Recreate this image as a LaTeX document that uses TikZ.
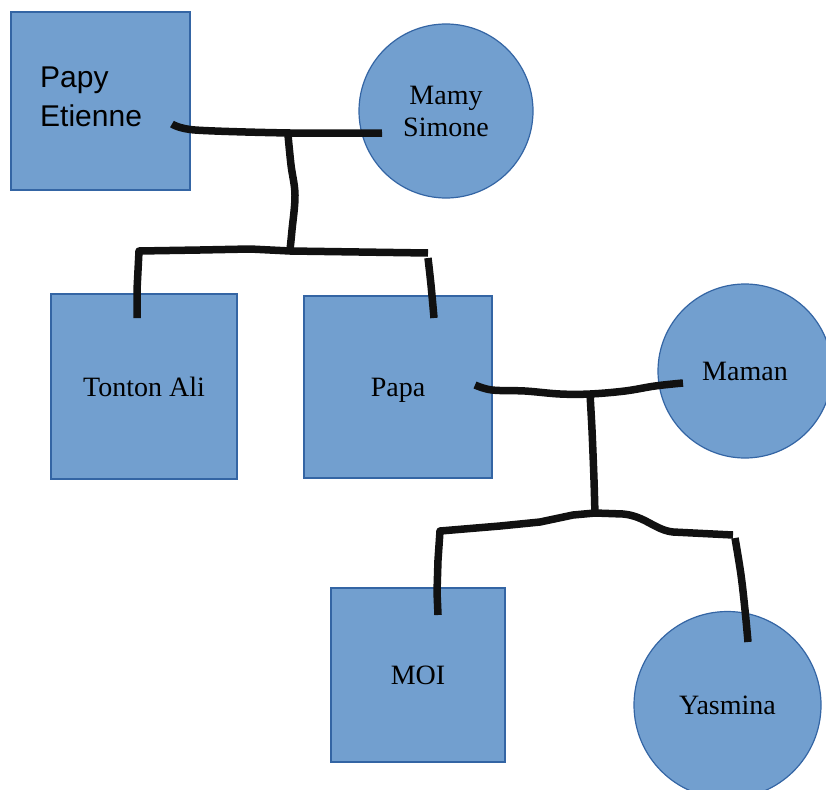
\documentclass[tikz,border=0pt]{standalone}
\usepackage{fontspec}
\setmainfont{Liberation Serif}
\newfontfamily\arialf{Liberation Sans}
\definecolor{boxfill}{HTML}{729FCF}
\definecolor{boxline}{HTML}{3465A4}
\definecolor{linkc}{HTML}{111111}
\begin{document}
\begin{tikzpicture}[x=1pt,y=-1pt,
  person/.style={draw=boxline, fill=boxfill, line width=1.2pt, inner sep=0pt,
     font=\fontsize{28}{32}\selectfont, align=center, text=black},
  male/.style={person, rectangle},
  female/.style={person, circle},
  link/.style={draw=linkc, line width=7.5pt, line join=round, line cap=butt},
  sanslbl/.style={font=\arialf\fontsize{30}{36}\selectfont, text=black, inner sep=0pt}]
\useasboundingbox (0,0) rectangle (826,789);

% people
\node[male, minimum width=179pt, minimum height=178pt] (papy) at (100.5,101) {};
\node[sanslbl, anchor=base west] (papyA) at (40,88) {Papy};
\node[sanslbl, anchor=base west] (papyB) at (40,126) {Etienne};
\node[female, minimum size=174pt] (mamy) at (446,111) {Mamy\\Simone};
\node[male, minimum width=186pt, minimum height=185pt] (ali) at (144,386.5) {Tonton Ali};
\node[male, minimum width=188pt, minimum height=182pt, text depth=0pt] (papa) at (398,387) {Papa};
\node[female, minimum size=174pt] (maman) at (745,371) {Maman};
\node[male, minimum width=174pt, minimum height=174pt] (moi) at (418,675) {MOI};
\node[female, minimum size=187pt] (yasmina) at (727.5,705) {Yasmina};

% connector end points
\coordinate (e1) at (172,124);
\coordinate (e2) at (382,133);
\coordinate (j1) at (288,135);
\coordinate (j1b) at (290,250);
\coordinate (e3) at (137,318);
\coordinate (e4) at (428,253);
\coordinate (e5) at (428,258);
\coordinate (e6) at (434,318);
\coordinate (e7) at (475,385);
\coordinate (e8) at (683,383);
\coordinate (j2) at (590,394);
\coordinate (j2b) at (595,516);
\coordinate (e9) at (438,615);
\coordinate (e10) at (733,535);
\coordinate (e11) at (735,538);
\coordinate (e12) at (748,642);

% couple Papy - Mamy
\draw[link] plot[smooth, tension=0.5] coordinates {(e1) (195,130) (290,133) (e2)};
\draw[link] plot[smooth, tension=0.6] coordinates {(j1) (291,165) (295,195) (292,230) (j1b)};
% children row 1
\draw[link] (e3) -- (137,290) -- (139,251) -- (200,250) -- (250,249) -- (290,251) -- (e4);
\draw[link] plot[smooth, tension=0.6] coordinates {(e5) (431,285) (e6)};
% couple Papa - Maman
\draw[link] plot[smooth, tension=0.6] coordinates {(e7) (492,390) (525,391) (560,394) (j2) (625,391) (655,386) (e8)};
\draw[link] plot[smooth, tension=0.5] coordinates {(j2) (592,430) (594,480) (j2b)};
% children row 2
\draw[link] (e9) -- (437,592) -- (438,560) -- (440,531) -- (500,526) -- (540,522) -- (573,515) -- (595,513) -- (623,514)
   .. controls (645,516) and (655,530) .. (673,532) -- (e10);
\draw[link] plot[smooth, tension=0.6] coordinates {(e11) (741,575) (745,610) (e12)};
\end{tikzpicture}
\end{document}
